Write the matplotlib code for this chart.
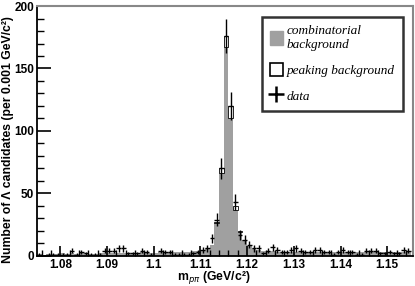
import numpy as np
import matplotlib
matplotlib.use("Agg")
import matplotlib.pyplot as plt
from matplotlib.patches import Patch
from matplotlib.lines import Line2D
from matplotlib.ticker import MultipleLocator

# 80 bins of 0.001 GeV/c^2 from 1.075 to 1.155
edges = np.round(np.arange(1.075, 1.1551, 0.001), 4)

data = [1, 0, 1, 1, 1, 1, 1, 4, 1, 3, 2, 1, 1, 1, 4, 4, 4, 6, 6, 2,
        2, 2, 4, 3, 1, 0, 4, 3, 3, 1, 1, 1, 1, 2, 3, 5, 6, 14, 29, 70,
        176, 120, 43, 17, 13, 9, 6, 6, 2, 4, 7, 5, 3, 3, 5, 6, 4, 3, 3, 5,
        5, 3, 3, 1, 3, 5, 3, 3, 1, 1, 4, 4, 4, 2, 2, 3, 2, 2, 5, 4]

combinatorial = [1.5, 1, 1.5, 1.5, 1.5, 2, 1.5, 2, 1.5, 2, 2, 1.5, 1.5, 2, 2, 2.5, 2.5, 2.5, 2, 2,
                 2.5, 2.5, 3, 2.5, 2.5, 2.5, 3, 3, 3.5, 3, 3, 3, 3.5, 4, 4, 5, 6, 9, 26, 66,
                 167, 110, 37, 19, 13, 8, 6, 4.5, 4, 4, 4, 3.5, 3.5, 3.5, 3.5, 3.5, 3, 3, 3, 3.5,
                 3.5, 3, 3, 3, 3, 3, 3, 3, 3, 3, 3, 3, 3, 3, 3, 3, 3, 3, 3, 3]

peaking = [0] * 38 + [1, 4, 9, 10, 3, 1] + [0] * 36

sans = ['Liberation Sans Narrow', 'Liberation Sans']

fig = plt.figure(figsize=(4.15, 2.86), dpi=100)
ax = fig.add_axes([0.089, 0.105, 0.906, 0.874])

lo = edges[:-1]
w = 0.001
comb = np.array(combinatorial)
peak = np.array(peaking)
ax.bar(lo, comb, width=w, align='edge', color='#a0a0a0', linewidth=0)
m = peak > 0
ax.bar(lo[m], peak[m], bottom=comb[m], width=w, align='edge',
       facecolor='white', edgecolor='black', linewidth=0.6)

d = np.array(data, dtype=float)
centers = lo + w / 2
k = d > 0
ax.errorbar(centers[k], d[k], xerr=w / 2, yerr=np.sqrt(d[k]), fmt='none',
            ecolor='black', elinewidth=1.0, capsize=0)

ax.set_xlim(1.075, 1.1555)
ax.set_ylim(0, 200)
ax.xaxis.set_minor_locator(MultipleLocator(0.002))
ax.yaxis.set_major_locator(MultipleLocator(50))
ax.yaxis.set_minor_locator(MultipleLocator(10))
ax.set_xticks([1.08, 1.09, 1.10, 1.11, 1.12, 1.13, 1.14, 1.15])
ax.set_xticklabels(['1.08', '1.09', '1.1', '1.11', '1.12', '1.13', '1.14', '1.15'])
ax.tick_params(which='both', direction='in', top=False, right=False)
ax.tick_params(which='major', length=10, width=1.2)
ax.tick_params(which='minor', length=5, width=1)
ax.tick_params(axis='x', which='major', length=7, pad=2)
ax.tick_params(axis='x', which='minor', length=4)
ax.tick_params(axis='y', pad=2)
for lab in ax.get_xticklabels() + ax.get_yticklabels():
    lab.set_fontweight('bold')
    lab.set_fontfamily(sans)
    lab.set_fontsize(8.5)

ax.spines['left'].set_linewidth(1.3)
ax.spines['bottom'].set_linewidth(1.3)
ax.spines['top'].set_color('#888888')
ax.spines['right'].set_color('#888888')
ax.spines['top'].set_linewidth(1.5)
ax.spines['right'].set_linewidth(1.5)

ax.set_ylabel('Number of Λ candidates (per 0.001 GeV/c²)', fontsize=8.8,
              fontweight='bold', fontfamily=['Liberation Sans'], va='center')
ax.yaxis.set_label_coords(-0.077, 0.466)
ax.set_xlabel(r'm$_{p\pi}$ (GeV/c²)', fontsize=8.8,
              fontweight='bold', fontfamily=['Liberation Sans'], va='center')
ax.xaxis.set_label_coords(0.47, -0.087)

handles = [Patch(facecolor='#a0a0a0', edgecolor='#a0a0a0'),
           Patch(facecolor='white', edgecolor='black', linewidth=1.2),
           Line2D([], [], color='black', marker='+', markersize=11,
                  markeredgewidth=1.8, linestyle='none')]
labels = ['combinatorial\nbackground', 'peaking background', 'data']
leg = ax.legend(handles, labels, loc='upper left', bbox_to_anchor=(0.598, 0.956),
                borderaxespad=0, frameon=True, fancybox=False, handlelength=1.0,
                handleheight=1.2, handletextpad=0.3, labelspacing=0.9, borderpad=0.6,
                prop={'family': 'Liberation Serif', 'style': 'italic', 'size': 9.5})
leg.get_frame().set_edgecolor('black')
leg.get_frame().set_linewidth(1.8)

fig.savefig('out.png', dpi=100)
